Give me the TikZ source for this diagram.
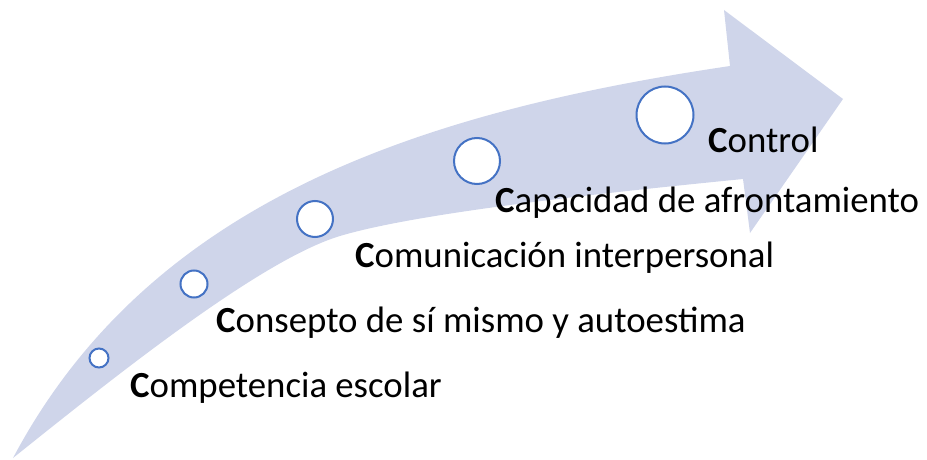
\documentclass[tikz,border=0pt]{standalone}
\usepackage{fontspec}
\setmainfont{Carlito}
\definecolor{arrowfill}{RGB}{207,213,234}
\definecolor{ringblue}{RGB}{68,114,196}
\begin{document}
\begin{tikzpicture}[x=1pt, y=-1pt,
        dot/.style={circle, draw=ringblue, fill=white, line width=2pt, inner sep=0pt},
        label/.style={anchor=base west, inner sep=0pt, font=\fontsize{36.8}{44}\selectfont}
    ]
        \useasboundingbox (0,0) rectangle (927,460);
        % Arrow
        \fill[arrowfill] (13,458) .. controls (150,200) and (420,112) .. (730,66)
            -- (724,10) -- (843,99) -- (750,233) -- (743,179)
            .. controls (613,192) and (420,212) .. (340,236)
            .. controls (260,260) and (113,378) .. cycle;
        % Circles
        \node[dot, minimum size=19pt] (c1) at (99,358) {};
        \node[dot, minimum size=27pt] (c2) at (194,284) {};
        \node[dot, minimum size=36pt] (c3) at (315,219) {};
        \node[dot, minimum size=46pt] (c4) at (477,161) {};
        \node[dot, minimum size=57pt] (c5) at (665,115) {};
        % Labels
        \node[label] (t1) at (130,397) {\textbf{C}ompetencia escolar};
        \node[label] (t2) at (216,332) {\textbf{C}onsepto de sí mismo y autoestima};
        \node[label] (t3) at (355,267) {\textbf{C}omunicación interpersonal};
        \node[label] (t4) at (495,212) {\textbf{C}apacidad de afrontamiento};
        \node[label] (t5) at (708,152) {\textbf{C}ontrol};
    \end{tikzpicture}
\end{document}
